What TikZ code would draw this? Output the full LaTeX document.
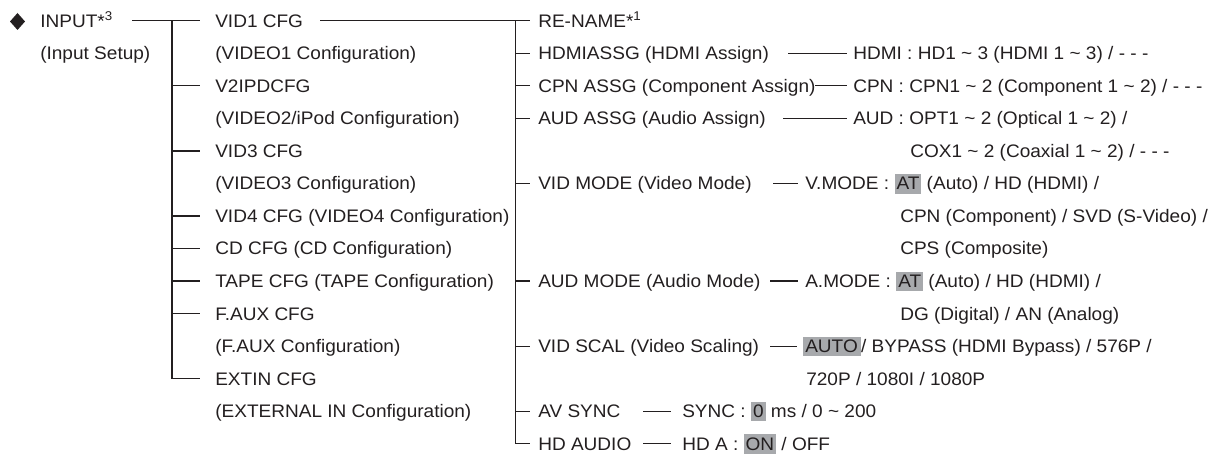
\documentclass[tikz,border=0pt]{standalone}
\usepackage{fontspec}
\setmainfont[FakeStretch=1.05]{Liberation Sans}
\definecolor{ink}{HTML}{231F20}
\definecolor{hlgray}{HTML}{A7A9AC}
\newcommand{\hlbox}[1]{{\setlength{\fboxsep}{0pt}\colorbox{hlgray}{\rule[-2.8pt]{0pt}{14.8pt}\hspace{1.5pt}#1\hspace{1.5pt}}}}
\newcommand{\RR}[1]{20.7+32.55*(#1)}
\newcommand{\BB}[1]{27.1+32.55*(#1)}
\newcommand{\tl}{\textasciitilde{}}
\begin{document}
\begin{tikzpicture}[x=0.75pt,y=-0.75pt,
  lbl/.style={inner sep=0pt, anchor=base west, text=ink, font=\fontsize{13.6pt}{16pt}\selectfont},
  conn/.style={draw=ink, line width=0.95pt}]
\useasboundingbox (0,0) rectangle (1218,456);
% bullet
\fill[ink] (17.5,13) -- (25,21.5) -- (17.5,30) -- (10,21.5) -- cycle;
% root
\node[lbl] (input) at (40,{\BB{0}}) {INPUT*\textsuperscript{3}};
\node[lbl] (inputsub) at (40,{\BB{1}}) {(Input Setup)};
% level 1
\node[lbl] (vid1) at (215,{\BB{0}}) {VID1 CFG};
\node[lbl] (vid1s) at (215,{\BB{1}}) {(VIDEO1 Configuration)};
\node[lbl] (v2) at (215,{\BB{2}}) {V2IPDCFG};
\node[lbl] (v2s) at (215,{\BB{3}}) {(VIDEO2/iPod Configuration)};
\node[lbl] (vid3) at (215,{\BB{4}}) {VID3 CFG};
\node[lbl] (vid3s) at (215,{\BB{5}}) {(VIDEO3 Configuration)};
\node[lbl] (vid4) at (215,{\BB{6}}) {VID4 CFG (VIDEO4 Configuration)};
\node[lbl] (cd) at (215,{\BB{7}}) {CD CFG (CD Configuration)};
\node[lbl] (tape) at (215,{\BB{8}}) {TAPE CFG (TAPE Configuration)};
\node[lbl] (faux) at (215,{\BB{9}}) {F.AUX CFG};
\node[lbl] (fauxs) at (215,{\BB{10}}) {(F.AUX Configuration)};
\node[lbl] (extin) at (215,{\BB{11}}) {EXTIN CFG};
\node[lbl] (extins) at (215,{\BB{12}}) {(EXTERNAL IN Configuration)};
% level 2
\node[lbl] (rename) at (538,{\BB{0}}) {RE-NAME*\textsuperscript{1}};
\node[lbl] (hdmi) at (538,{\BB{1}}) {HDMIASSG (HDMI Assign)};
\node[lbl] (cpn) at (538,{\BB{2}}) {CPN ASSG (Component Assign)};
\node[lbl] (aud) at (538,{\BB{3}}) {AUD ASSG (Audio Assign)};
\node[lbl] (vmode) at (538,{\BB{5}}) {VID MODE (Video Mode)};
\node[lbl] (amode) at (538,{\BB{8}}) {AUD MODE (Audio Mode)};
\node[lbl] (vscal) at (538,{\BB{10}}) {VID SCAL (Video Scaling)};
\node[lbl] (avsync) at (538,{\BB{12}}) {AV SYNC};
\node[lbl] (hdaudio) at (538,{\BB{13}}) {HD AUDIO};
% level 3
\node[lbl] (hdmiv) at (853,{\BB{1}}) {HDMI : HD1 \tl\ 3 (HDMI 1 \tl\ 3) / - - -};
\node[lbl] (cpnv) at (853,{\BB{2}}) {CPN : CPN1 \tl\ 2 (Component 1 \tl\ 2) / - - -};
\node[lbl] (audv) at (853,{\BB{3}}) {AUD : OPT1 \tl\ 2 (Optical 1 \tl\ 2) /};
\node[lbl] (audv2) at (910,{\BB{4}}) {COX1 \tl\ 2 (Coaxial 1 \tl\ 2) / - - -};
\node[lbl] (vmodev) at (805,{\BB{5}}) {V.MODE : \hlbox{AT} (Auto) / HD (HDMI) /};
\node[lbl] (vmodev2) at (900,{\BB{6}}) {CPN (Component) / SVD (S-Video) /};
\node[lbl] (vmodev3) at (900,{\BB{7}}) {CPS (Composite)};
\node[lbl] (amodev) at (805,{\BB{8}}) {A.MODE : \hlbox{AT} (Auto) / HD (HDMI) /};
\node[lbl] (amodev2) at (900,{\BB{9}}) {DG (Digital) / AN (Analog)};
\node[lbl] (vscalv) at (803,{\BB{10}}) {\hlbox{AUTO\hspace{1pt}}/ BYPASS (HDMI Bypass) / 576P /};
\node[lbl] (vscalv2) at (806,{\BB{11}}) {720P / 1080I / 1080P};
\node[lbl] (syncv) at (682,{\BB{12}}) {SYNC : \hlbox{0} ms / 0 \tl\ 200};
\node[lbl] (hdav) at (682,{\BB{13}}) {HD A : \hlbox{ON} / OFF};
% coordinates for connectors
\coordinate (inA) at (132,{\RR{0}});
\coordinate (t1top) at (172,{\RR{0}});
\coordinate (t1end) at (172,{\RR{11}});
\foreach \r in {0,2,4,6,7,8,9,11} {
  \coordinate (t1r\r) at (172,{\RR{\r}});
  \coordinate (c1r\r) at (200,{\RR{\r}});
}
\coordinate (vA) at (320,{\RR{0}});
\coordinate (t2top) at (515.7,{\RR{0}});
\coordinate (t2end) at (515.7,{\RR{13}});
\foreach \r in {0,1,2,3,5,8,10,12,13} {
  \coordinate (t2r\r) at (515.7,{\RR{\r}});
  \coordinate (c2r\r) at (530,{\RR{\r}});
}
% level 1 tree
\draw[conn] (inA) -- (c1r0);
\draw[conn] (t1top) -- (t1end) -- (c1r11);
\foreach \r in {2,4,6,7,8,9} { \draw[conn] (t1r\r) -- (c1r\r); }
% level 2 tree
\draw[conn] (vA) -- (c2r0);
\draw[conn] (t2top) -- (t2end) -- (c2r13);
\foreach \r in {1,2,3,5,8,10,12} { \draw[conn] (t2r\r) -- (c2r\r); }
% level 3 connectors
\coordinate (l1a) at (788,{\RR{1}});  \coordinate (l1b) at (847,{\RR{1}});
\coordinate (l2a) at (815,{\RR{2}});  \coordinate (l2b) at (847,{\RR{2}});
\coordinate (l3a) at (783,{\RR{3}});  \coordinate (l3b) at (847,{\RR{3}});
\coordinate (l5a) at (773,{\RR{5}});  \coordinate (l5b) at (798,{\RR{5}});
\coordinate (l8a) at (770,{\RR{8}});  \coordinate (l8b) at (798,{\RR{8}});
\coordinate (l10a) at (770,{\RR{10}}); \coordinate (l10b) at (797,{\RR{10}});
\coordinate (l12a) at (643,{\RR{12}}); \coordinate (l12b) at (671,{\RR{12}});
\coordinate (l13a) at (643,{\RR{13}}); \coordinate (l13b) at (671,{\RR{13}});
\foreach \r in {1,2,3,5,8,10,12,13} { \draw[conn] (l\r a) -- (l\r b); }
\end{tikzpicture}
\end{document}
